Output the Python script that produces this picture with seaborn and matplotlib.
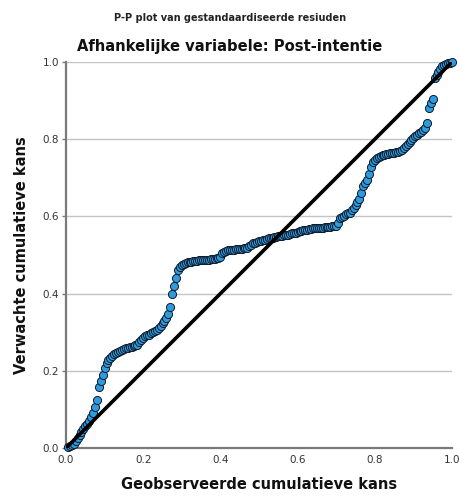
import matplotlib
matplotlib.use("Agg")
import matplotlib.pyplot as plt
import seaborn as sns
import pandas as pd

# Observed cumulative probability (x) and expected cumulative probability (y)
observed = [
    0.005, 0.010, 0.015, 0.020, 0.025, 0.030, 0.035, 0.040, 0.045, 0.050,
    0.055, 0.060, 0.065, 0.070, 0.075, 0.080, 0.085, 0.090, 0.095, 0.100,
    0.105, 0.110, 0.115, 0.120, 0.125, 0.130, 0.135, 0.140, 0.145, 0.150,
    0.155, 0.160, 0.165, 0.170, 0.175, 0.180, 0.185, 0.190, 0.195, 0.200,
    0.205, 0.210, 0.215, 0.220, 0.225, 0.230, 0.235, 0.240, 0.245, 0.250,
    0.255, 0.260, 0.265, 0.270, 0.275, 0.280, 0.285, 0.290, 0.295, 0.300,
    0.305, 0.310, 0.315, 0.320, 0.325, 0.330, 0.335, 0.340, 0.345, 0.350,
    0.355, 0.360, 0.365, 0.370, 0.375, 0.380, 0.385, 0.390, 0.395, 0.400,
    0.405, 0.410, 0.415, 0.420, 0.425, 0.430, 0.435, 0.440, 0.445, 0.450,
    0.455, 0.460, 0.465, 0.470, 0.475, 0.480, 0.485, 0.490, 0.495, 0.500,
    0.505, 0.510, 0.515, 0.520, 0.525, 0.530, 0.535, 0.540, 0.545, 0.550,
    0.555, 0.560, 0.565, 0.570, 0.575, 0.580, 0.585, 0.590, 0.595, 0.600,
    0.605, 0.610, 0.615, 0.620, 0.625, 0.630, 0.635, 0.640, 0.645, 0.650,
    0.655, 0.660, 0.665, 0.670, 0.675, 0.680, 0.685, 0.690, 0.695, 0.700,
    0.705, 0.710, 0.715, 0.720, 0.725, 0.730, 0.735, 0.740, 0.745, 0.750,
    0.755, 0.760, 0.765, 0.770, 0.775, 0.780, 0.785, 0.790, 0.795, 0.800,
    0.805, 0.810, 0.815, 0.820, 0.825, 0.830, 0.835, 0.840, 0.845, 0.850,
    0.855, 0.860, 0.865, 0.870, 0.875, 0.880, 0.885, 0.890, 0.895, 0.900,
    0.905, 0.910, 0.915, 0.920, 0.925, 0.930, 0.935, 0.940, 0.945, 0.950,
    0.955, 0.960, 0.965, 0.970, 0.975, 0.980, 0.985, 0.990, 0.995, 1.000,
]
expected = [
    0.002, 0.004, 0.007, 0.011, 0.018, 0.026, 0.033, 0.041, 0.048, 0.056,
    0.063, 0.070, 0.080, 0.091, 0.107, 0.124, 0.158, 0.174, 0.190, 0.207,
    0.219, 0.229, 0.234, 0.239, 0.243, 0.245, 0.248, 0.251, 0.254, 0.256,
    0.258, 0.259, 0.261, 0.262, 0.264, 0.266, 0.268, 0.274, 0.280, 0.286,
    0.289, 0.292, 0.294, 0.297, 0.300, 0.303, 0.305, 0.311, 0.317, 0.323,
    0.330, 0.336, 0.347, 0.364, 0.400, 0.419, 0.440, 0.461, 0.469, 0.473,
    0.477, 0.480, 0.482, 0.483, 0.483, 0.484, 0.485, 0.485, 0.486, 0.486,
    0.487, 0.487, 0.488, 0.488, 0.489, 0.490, 0.490, 0.491, 0.491, 0.494,
    0.504, 0.509, 0.510, 0.512, 0.513, 0.513, 0.514, 0.515, 0.515, 0.516,
    0.516, 0.517, 0.518, 0.519, 0.524, 0.527, 0.530, 0.532, 0.534, 0.536,
    0.537, 0.539, 0.540, 0.542, 0.543, 0.544, 0.545, 0.546, 0.547, 0.548,
    0.549, 0.550, 0.551, 0.552, 0.553, 0.554, 0.556, 0.557, 0.558, 0.560,
    0.561, 0.563, 0.564, 0.565, 0.566, 0.567, 0.568, 0.569, 0.569, 0.570,
    0.570, 0.571, 0.571, 0.572, 0.572, 0.573, 0.573, 0.574, 0.574, 0.575,
    0.583, 0.596, 0.599, 0.602, 0.605, 0.608, 0.610, 0.616, 0.623, 0.630,
    0.637, 0.646, 0.661, 0.678, 0.686, 0.695, 0.710, 0.727, 0.740, 0.745,
    0.750, 0.753, 0.756, 0.758, 0.760, 0.761, 0.762, 0.763, 0.764, 0.765,
    0.766, 0.768, 0.770, 0.772, 0.777, 0.782, 0.787, 0.793, 0.799, 0.804,
    0.808, 0.811, 0.815, 0.819, 0.824, 0.829, 0.842, 0.881, 0.893, 0.905,
    0.959, 0.966, 0.975, 0.982, 0.989, 0.993, 0.995, 0.997, 0.998, 0.999,
]
ref_line = [0.0, 1.0]
tick_values = [0.0, 0.2, 0.4, 0.6, 0.8, 1.0]
tick_labels = ["0.0", "0.2", "0.4", "0.6", "0.8", "1.0"]

sns.set_theme(style="white")
plt.rcParams["font.family"] = ["DejaVu Sans"]

df = pd.DataFrame({"obs": observed, "exp": expected})
ref = pd.DataFrame({"x": ref_line, "y": ref_line})

fig = plt.figure(figsize=(4.6, 4.98), dpi=100)
ax = fig.add_axes([66 / 460, 50 / 498, 386 / 460, 386 / 498])

ax.set_xlim(0, 1)
ax.set_ylim(0, 1)
ax.set_yticks(tick_values)
ax.set_yticklabels(tick_labels)
ax.set_xticks(tick_values)
ax.set_xticklabels(tick_labels)

for v in tick_values[1:]:
    ax.axhline(v, color="#c4c4c4", lw=1.0, zorder=0)

sns.scatterplot(data=df, x="obs", y="exp", ax=ax, s=34, color="#2e9be0",
                edgecolor="#0e1a28", linewidth=0.7, zorder=3, clip_on=False)
sns.lineplot(data=ref, x="x", y="y", ax=ax, color="black", lw=2.6, zorder=4)

for side in ["top", "right"]:
    ax.spines[side].set_visible(False)
for side in ["left", "bottom"]:
    ax.spines[side].set_color("#7a7a7a")
    ax.spines[side].set_linewidth(1.6)

ax.tick_params(axis="y", which="major", left=True, length=3, width=1,
               color="#7a7a7a", labelsize=7.5, labelcolor="#333333", pad=2)
ax.tick_params(axis="x", which="major", bottom=False, length=0,
               labelsize=7.5, labelcolor="#333333", pad=5)

ax.set_xlabel("Geobserveerde cumulatieve kans", fontsize=10.5,
              fontweight="bold", color="#111111", labelpad=9)
ax.set_ylabel("Verwachte cumulatieve kans", fontsize=10.5,
              fontweight="bold", color="#111111", labelpad=10)

fig.text(0.5, 1 - 18 / 498, "P-P plot van gestandaardiseerde resiuden",
         ha="center", va="center", fontsize=7.0, fontweight="bold",
         color="#222222")
fig.text(229.5 / 460, 1 - 47 / 498, "Afhankelijke variabele: Post-intentie",
         ha="center", va="center", fontsize=10.6, fontweight="bold",
         color="#111111")

fig.savefig("out.png", dpi=100)
